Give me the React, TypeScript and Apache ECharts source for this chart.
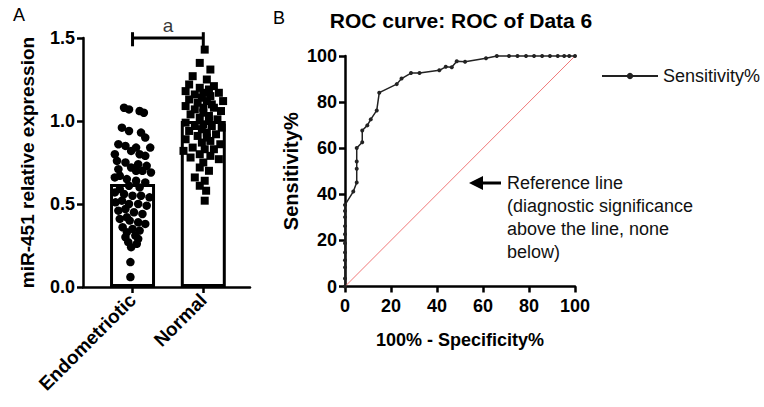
import React, { useEffect, useRef } from "react";
import * as echarts from "echarts";

// Panel A: group names, bar means, individual points
const groups = ["Endometriotic", "Normal"];
const barMeans = [0.62, 1.0];
const endoValues = [1.08, 1.07, 1.06, 1.05, 0.96, 0.94, 0.93, 0.9, 0.86, 0.85, 0.84, 0.84, 0.82, 0.8, 0.8, 0.79, 0.76, 0.75, 0.74, 0.73, 0.72, 0.71, 0.7, 0.7, 0.69, 0.67, 0.66, 0.65, 0.64, 0.63, 0.61, 0.6, 0.59, 0.57, 0.56, 0.55, 0.55, 0.54, 0.52, 0.51, 0.5, 0.5, 0.49, 0.47, 0.46, 0.45, 0.44, 0.42, 0.41, 0.4, 0.39, 0.38, 0.36, 0.35, 0.34, 0.33, 0.31, 0.3, 0.29, 0.27, 0.26, 0.24, 0.15, 0.06];
const endoOffsets = [-0.12, -0.05, 0.1, 0.16, -0.15, -0.05, 0.12, 0.18, -0.2, -0.1, 0.05, 0.25, -0.02, -0.25, 0.1, 0.18, -0.22, -0.1, 0.08, 0.2, -0.02, -0.2, 0.05, 0.14, 0.26, -0.18, -0.25, -0.08, 0.05, 0.18, -0.05, 0.1, -0.18, -0.25, -0.12, 0.0, 0.12, 0.24, -0.15, -0.24, -0.05, 0.08, 0.2, -0.1, -0.2, 0.02, 0.14, -0.08, -0.18, -0.04, 0.08, 0.18, -0.14, 0.0, 0.1, -0.08, 0.04, -0.1, 0.08, -0.06, 0.06, -0.02, -0.03, -0.03];
const normalValues = [1.43, 1.35, 1.31, 1.27, 1.25, 1.22, 1.21, 1.2, 1.19, 1.18, 1.17, 1.17, 1.16, 1.15, 1.14, 1.13, 1.12, 1.12, 1.11, 1.1, 1.09, 1.08, 1.08, 1.07, 1.06, 1.05, 1.04, 1.03, 1.02, 1.01, 1.0, 0.99, 0.98, 0.97, 0.97, 0.96, 0.95, 0.94, 0.93, 0.92, 0.91, 0.9, 0.89, 0.88, 0.87, 0.86, 0.84, 0.83, 0.83, 0.82, 0.8, 0.79, 0.78, 0.77, 0.75, 0.72, 0.7, 0.66, 0.64, 0.61, 0.58, 0.52];
const normalOffsets = [0.02, -0.05, 0.1, -0.15, 0.05, -0.2, 0.15, -0.05, 0.08, -0.25, 0.0, 0.22, -0.12, 0.1, -0.02, -0.2, 0.05, 0.28, -0.08, 0.12, -0.25, 0.15, 0.0, -0.12, 0.25, 0.0, -0.18, 0.08, -0.05, 0.2, 0.08, -0.25, 0.0, 0.12, -0.12, 0.26, -0.02, -0.2, 0.05, 0.18, -0.08, 0.05, -0.25, 0.1, -0.02, 0.24, -0.15, 0.02, 0.15, -0.28, -0.05, 0.1, -0.18, 0.22, 0.0, -0.05, 0.08, -0.12, 0.02, -0.05, 0.04, 0.02];
const bracketLevel = 1.5;
const sigLabel = "a";

// Panel B: ROC curve
const rocFpr = [0, 0, 0, 0, 0, 0, 0, 0, 0, 0, 0, 3.6, 5.1, 5.1, 5.1, 5.1, 7.5, 7.5, 9.7, 11.2, 13.8, 14.9, 22.5, 24.6, 28.7, 32.4, 41.0, 43.8, 46.4, 48.6, 52.2, 61.3, 66.0, 71.3, 75.0, 78.7, 82.2, 85.7, 89.1, 92.5, 95.3, 97.5, 100];
const rocSens = [0, 3.5, 8.3, 11.4, 14.8, 18.8, 22.7, 26.2, 30.1, 32.8, 35.4, 41.2, 45.1, 51.1, 54.2, 60.1, 62.6, 67.7, 69.9, 72.5, 76.4, 84.1, 87.8, 90.2, 92.6, 92.6, 93.8, 95.3, 95.1, 97.7, 97.5, 99.0, 100, 100, 100, 100, 100, 100, 100, 100, 100, 100, 100];
const refLine = [[0, 0], [100, 100]];
const refText = ["Reference line", "(diagnostic significance", "above the line, none", "below)"];

const FONT = "'Liberation Sans', Arial, Helvetica, sans-serif";

export default function App() {
  const ref = useRef<HTMLDivElement>(null);
  useEffect(() => {
    document.body.style.margin = "0";
    const chart = echarts.init(ref.current!, null, { renderer: "svg" });
    const axisLine = { show: true, onZero: false, lineStyle: { color: "#000", width: 2.5 } };
    const axisTick = { show: true, inside: false, length: 6, lineStyle: { color: "#000", width: 2.5 } };
    const tickLabel = { color: "#000", fontWeight: "bold", fontSize: 18, fontFamily: FONT };
    const nameStyle = { color: "#000", fontWeight: "bold", fontSize: 18, fontFamily: FONT };

    const option: any = {
      animation: false,
      backgroundColor: "#fff",
      textStyle: { fontFamily: FONT },
      title: [
        { text: "ROC curve: ROC of Data 6", left: 456, top: 5, textAlign: "center", textStyle: { fontSize: 21, fontWeight: "bold", color: "#000", fontFamily: FONT } },
        { text: "A", left: 8, top: 1, textStyle: { fontSize: 18, fontWeight: "normal", color: "#000", fontFamily: FONT } },
        { text: "B", left: 268, top: 4, textStyle: { fontSize: 18, fontWeight: "normal", color: "#000", fontFamily: FONT } },
      ],
      legend: {
        data: ["Sensitivity%"],
        left: 596,
        top: 62,
        itemWidth: 56,
        itemHeight: 8,
        textStyle: { fontSize: 18, color: "#111", fontFamily: FONT },
        itemGap: 10,
      },
      grid: [
        { left: 83, right: 514, top: 38, bottom: 120 },
        { left: 345, right: 189, top: 56, bottom: 120.5 },
      ],
      xAxis: [
        {
          gridIndex: 0,
          type: "value",
          min: -0.7,
          max: 1.66,
          axisLine,
          axisTick: { ...axisTick, customValues: [0, 1] },
          axisLabel: { ...tickLabel, fontSize: 19, customValues: [0, 1], rotate: 45, margin: 10, formatter: (v: number) => groups[Math.round(v)] ?? "" },
          splitLine: { show: false },
        },
        {
          gridIndex: 1,
          type: "value",
          min: 0,
          max: 100,
          interval: 20,
          axisLine,
          axisTick,
          axisLabel: { ...tickLabel, margin: 10 },
          splitLine: { show: false },
          name: "100% - Specificity%",
          nameLocation: "middle",
          nameGap: 44,
          nameTextStyle: nameStyle,
        },
      ],
      yAxis: [
        {
          gridIndex: 0,
          type: "value",
          min: 0,
          max: 1.5,
          interval: 0.5,
          axisLine,
          axisTick,
          axisLabel: { ...tickLabel, margin: 8, formatter: (v: number) => v.toFixed(1) },
          splitLine: { show: false },
          name: "miR-451 relative expression",
          nameLocation: "middle",
          nameGap: 46,
          nameTextStyle: { ...nameStyle, fontSize: 19 },
        },
        {
          gridIndex: 1,
          type: "value",
          min: 0,
          max: 100,
          interval: 20,
          axisLine,
          axisTick,
          axisLabel: { ...tickLabel, margin: 8 },
          splitLine: { show: false },
          name: "Sensitivity%",
          nameLocation: "middle",
          nameGap: 44,
          nameTextStyle: { ...nameStyle, fontSize: 20 },
        },
      ],
      series: [
        {
          type: "bar",
          xAxisIndex: 0,
          yAxisIndex: 0,
          barWidth: 45,
          data: barMeans.map((m, i) => [i, m]),
          itemStyle: { color: "#fff", borderColor: "#000", borderWidth: 3 },
          z: 1,
        },
        {
          type: "scatter",
          xAxisIndex: 0,
          yAxisIndex: 0,
          symbol: "circle",
          symbolSize: 8.5,
          data: endoValues.map((v, i) => [0 + endoOffsets[i], v]),
          itemStyle: { color: "#000", opacity: 1 },
          z: 3,
        },
        {
          type: "scatter",
          xAxisIndex: 0,
          yAxisIndex: 0,
          symbol: "rect",
          symbolSize: 8,
          data: normalValues.map((v, i) => [1 + normalOffsets[i], v]),
          itemStyle: { color: "#000", opacity: 1 },
          z: 3,
        },
        // significance bracket
        {
          type: "line", xAxisIndex: 0, yAxisIndex: 0, symbol: "none", clip: false,
          data: [[0, bracketLevel], [1, bracketLevel]],
          lineStyle: { color: "#000", width: 3 }, z: 4,
        },
        {
          type: "line", xAxisIndex: 0, yAxisIndex: 0, symbol: "none", clip: false,
          data: [[0, 1.535], [0, 1.45]],
          lineStyle: { color: "#000", width: 3 }, z: 4,
        },
        {
          type: "line", xAxisIndex: 0, yAxisIndex: 0, symbol: "none", clip: false,
          data: [[1, 1.535], [1, 1.45]],
          lineStyle: { color: "#000", width: 3 }, z: 4,
        },
        {
          type: "scatter", xAxisIndex: 0, yAxisIndex: 0, symbolSize: 0, clip: false,
          data: [[0.5, bracketLevel]],
          label: { show: true, position: "top", distance: 3, formatter: sigLabel, fontSize: 19, color: "#000", fontFamily: FONT },
          z: 4,
        },
        // ROC
        {
          name: "Reference",
          type: "line",
          xAxisIndex: 1,
          yAxisIndex: 1,
          symbol: "none",
          data: refLine,
          lineStyle: { color: "#f07878", width: 1 },
          z: 2,
        },
        {
          name: "Sensitivity%",
          type: "line",
          xAxisIndex: 1,
          yAxisIndex: 1,
          symbol: "circle",
          symbolSize: 4,
          clip: false,
          data: rocFpr.map((x, i) => [x, rocSens[i]]),
          lineStyle: { color: "#222", width: 1.5 },
          itemStyle: { color: "#222" },
          z: 3,
        },
      ],
      graphic: [
        { type: "line", shape: { x1: 478, y1: 183, x2: 501, y2: 183 }, style: { stroke: "#000", lineWidth: 3 } },
        { type: "polygon", shape: { points: [[469, 183], [483, 176], [483, 190]] }, style: { fill: "#000" } },
        {
          type: "text",
          left: 507,
          top: 171,
          style: { text: refText.join("\n"), fontSize: 18, lineHeight: 23, fill: "#111", fontFamily: FONT },
        },
      ],
    };
    chart.setOption(option);
    return () => chart.dispose();
  }, []);
  return <div ref={ref} style={{ width: 764, height: 407 }} />;
}
